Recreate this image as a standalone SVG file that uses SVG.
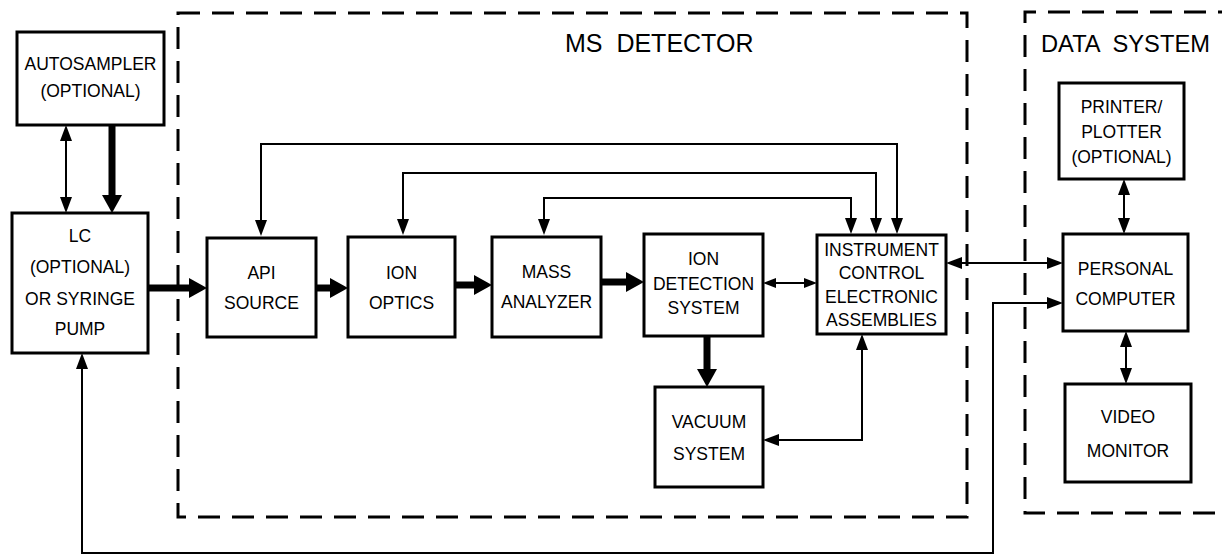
<svg xmlns="http://www.w3.org/2000/svg" width="1222" height="557" viewBox="0 0 1222 557">
<style>
  .box{fill:#fff;stroke:#000;stroke-width:3}
  .t{font-family:"Liberation Sans",Arial,sans-serif;font-size:17.5px;fill:#000;text-anchor:middle}
  .title{font-family:"Liberation Sans",Arial,sans-serif;fill:#000;white-space:pre}
  .dash{fill:none;stroke:#000;stroke-width:3;stroke-dasharray:22 12}
  .ln{fill:none;stroke:#000;stroke-width:2}
  .thick{fill:none;stroke:#000;stroke-width:7}
</style>
<defs>
  <marker id="ah" markerUnits="userSpaceOnUse" markerWidth="17" markerHeight="12" refX="0" refY="6" orient="auto-start-reverse" overflow="visible">
    <path d="M0,0 L16,6 L0,12 z" fill="#000"/>
  </marker>
  <marker id="ahs" markerUnits="userSpaceOnUse" markerWidth="14" markerHeight="10" refX="0" refY="5" orient="auto-start-reverse" overflow="visible">
    <path d="M0,0 L13,5 L0,10 z" fill="#000"/>
  </marker>
  <marker id="aht" markerUnits="userSpaceOnUse" markerWidth="19" markerHeight="20" refX="0" refY="10" orient="auto-start-reverse" overflow="visible">
    <path d="M0,0 L18,10 L0,20 z" fill="#000"/>
  </marker>
</defs>
<rect width="1222" height="557" fill="#fff"/>

<g id="ms-detector">
  <rect class="dash" x="178" y="13" width="789" height="504"/>
  <text class="title" x="565" y="52" font-size="25">MS  DETECTOR</text>
</g>
<g id="data-system">
  <path class="dash" d="M1240,12 L1025,12 L1025,513 L1240,513"/>
  <text class="title" x="1041" y="52" font-size="23.7">DATA  SYSTEM</text>
</g>

<g id="connectors">
  <path class="ln" d="M66,141 L66,197" marker-start="url(#ah)" marker-end="url(#ah)"/>
  <path class="thick" d="M112,125 L112,195" marker-end="url(#aht)"/>
  <path class="thick" d="M148,288 L189,288" marker-end="url(#aht)"/>
  <path class="thick" d="M316,288 L330,288" marker-end="url(#aht)"/>
  <path class="thick" d="M455,285 L474,285" marker-end="url(#aht)"/>
  <path class="thick" d="M601,282 L626,282" marker-end="url(#aht)"/>
  <path class="thick" d="M707,336 L707,369" marker-end="url(#aht)"/>
  <path class="ln" stroke-width="2.5" d="M776,283 L804,283" marker-start="url(#ahs)" marker-end="url(#ahs)"/>
  <path class="ln" d="M962,263 L1047,263" marker-start="url(#ah)" marker-end="url(#ah)"/>
  <path class="ln" stroke-width="2.5" d="M862,350 L862,440 L779,440" marker-start="url(#ah)" marker-end="url(#ah)"/>
  <path class="ln" stroke-width="1.6" d="M261,220 L261,144 L897,144 L897,218" marker-start="url(#ah)" marker-end="url(#ah)"/>
  <path class="ln" stroke-width="2.8" d="M403,219 L403,173 L876,173 L876,218" marker-start="url(#ah)" marker-end="url(#ah)"/>
  <path class="ln" d="M544,219 L544,198 L851,198 L851,218" marker-start="url(#ah)" marker-end="url(#ah)"/>
  <path class="ln" stroke-width="2.5" d="M1124,195 L1124,218" marker-start="url(#ah)" marker-end="url(#ah)"/>
  <path class="ln" stroke-width="2.5" d="M1126,347 L1126,368" marker-start="url(#ah)" marker-end="url(#ah)"/>
  <path class="ln" d="M82,369 L82,553 L993,553 L993,303 L1047,303" marker-start="url(#ah)" marker-end="url(#ah)"/>
</g>

<g id="autosampler">
  <rect class="box" x="17" y="32" width="147" height="93"/>
  <text class="t" x="90.5" y="70">AUTOSAMPLER</text>
  <text class="t" x="90.5" y="97">(OPTIONAL)</text>
</g>
<g id="lc">
  <rect class="box" x="12" y="213" width="136" height="140"/>
  <text class="t" x="80" y="242">LC</text>
  <text class="t" x="80" y="273">(OPTIONAL)</text>
  <text class="t" x="80" y="305">OR SYRINGE</text>
  <text class="t" x="80" y="335">PUMP</text>
</g>
<g id="api-source">
  <rect class="box" x="207" y="238" width="109" height="99"/>
  <text class="t" x="261.5" y="279">API</text>
  <text class="t" x="261.5" y="309">SOURCE</text>
</g>
<g id="ion-optics">
  <rect class="box" x="348" y="237" width="107" height="100"/>
  <text class="t" x="401.5" y="279">ION</text>
  <text class="t" x="401.5" y="309">OPTICS</text>
</g>
<g id="mass-analyzer">
  <rect class="box" x="492" y="237" width="109" height="100"/>
  <text class="t" x="546.5" y="278">MASS</text>
  <text class="t" x="546.5" y="308">ANALYZER</text>
</g>
<g id="ion-detection">
  <rect class="box" x="644" y="234" width="119" height="102"/>
  <text class="t" x="703.5" y="265">ION</text>
  <text class="t" x="703.5" y="290">DETECTION</text>
  <text class="t" x="703.5" y="314">SYSTEM</text>
</g>
<g id="instrument-control">
  <rect class="box" x="817" y="235" width="129" height="99"/>
  <text class="t" x="881.5" y="256">INSTRUMENT</text>
  <text class="t" x="881.5" y="279">CONTROL</text>
  <text class="t" x="881.5" y="303">ELECTRONIC</text>
  <text class="t" x="881.5" y="326">ASSEMBLIES</text>
</g>
<g id="vacuum-system">
  <rect class="box" x="655" y="387" width="108" height="100"/>
  <text class="t" x="709" y="428">VACUUM</text>
  <text class="t" x="709" y="460">SYSTEM</text>
</g>
<g id="printer-plotter">
  <rect class="box" x="1059" y="83" width="125" height="96"/>
  <text class="t" x="1121.5" y="113">PRINTER/</text>
  <text class="t" x="1121.5" y="138">PLOTTER</text>
  <text class="t" x="1121.5" y="163">(OPTIONAL)</text>
</g>
<g id="personal-computer">
  <rect class="box" x="1063" y="234" width="125" height="97"/>
  <text class="t" x="1125.5" y="275">PERSONAL</text>
  <text class="t" x="1125.5" y="305">COMPUTER</text>
</g>
<g id="video-monitor">
  <rect class="box" x="1065" y="384" width="126" height="98"/>
  <text class="t" x="1128" y="423">VIDEO</text>
  <text class="t" x="1128" y="457">MONITOR</text>
</g>
</svg>
